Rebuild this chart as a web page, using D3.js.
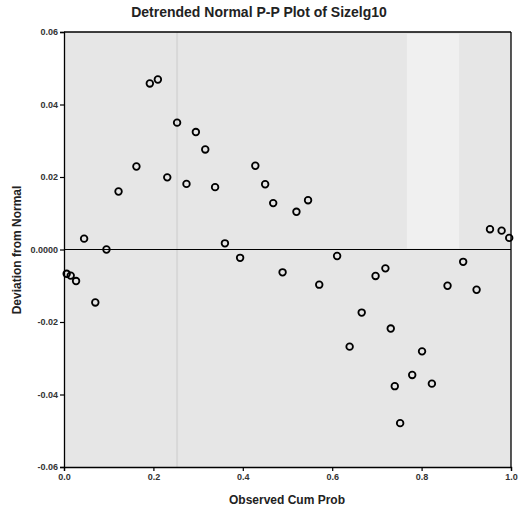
<!DOCTYPE html>
<html>
<head>
<meta charset="utf-8">
<script src="https://cdn.jsdelivr.net/npm/d3@7"></script>
<style>
  body { margin: 0; background: #fff; }
  svg { display: block; }
</style>
</head>
<body>
<div id="chart"></div>
<script>
// Observed cumulative probability (x) and deviation from normal (y)
var obsCumProb = [0.006, 0.015, 0.027, 0.045, 0.070, 0.095, 0.122, 0.162, 0.192, 0.210,
  0.231, 0.253, 0.274, 0.295, 0.316, 0.338, 0.360, 0.394, 0.428, 0.450,
  0.468, 0.489, 0.520, 0.546, 0.571, 0.611, 0.639, 0.666, 0.697, 0.719,
  0.731, 0.740, 0.752, 0.779, 0.801, 0.823, 0.858, 0.893, 0.923, 0.953,
  0.979, 0.996];
var deviation = [-0.0067, -0.0072, -0.0087, 0.0030, -0.0146, 0.0000, 0.0160, 0.0229, 0.0458, 0.0469,
  0.0199, 0.0350, 0.0181, 0.0324, 0.0276, 0.0172, 0.0017, -0.0023, 0.0231, 0.0180,
  0.0128, -0.0063, 0.0104, 0.0136, -0.0097, -0.0018, -0.0268, -0.0174, -0.0073, -0.0052,
  -0.0218, -0.0377, -0.0479, -0.0346, -0.0281, -0.0370, -0.0100, -0.0034, -0.0111, 0.0056,
  0.0052, 0.0032];
var xTicks = [0, 0.2, 0.4, 0.6, 0.8, 1.0];
var xTickLabels = ["0.0", "0.2", "0.4", "0.6", "0.8", "1.0"];
var yTicks = [0.06, 0.04, 0.02, 0, -0.02, -0.04, -0.06];
var yTickLabels = ["0.06", "0.04", "0.02", "0.0000", "-0.02", "-0.04", "-0.06"];

var W = 520, H = 515;
var m = { top: 32, right: 9, bottom: 48, left: 64 };

var svg = d3.select("#chart").append("svg")
  .attr("width", W)
  .attr("height", H);

var x = d3.scaleLinear().domain([0, 1]).range([m.left, W - m.right]);
var y = d3.scaleLinear().domain([-0.06, 0.06]).range([H - m.bottom, m.top]);

// Plot background
svg.append("rect")
  .attr("x", x(0)).attr("y", y(0.06))
  .attr("width", x(1) - x(0)).attr("height", y(-0.06) - y(0.06))
  .style("fill", "#e6e6e6");

// lighter patch (scan artefact in the original)
svg.append("rect")
  .attr("x", x(0.767)).attr("y", y(0.06) + 2)
  .attr("width", x(0.884) - x(0.767)).attr("height", y(0) - y(0.06) - 3)
  .style("fill", "#f0f0f0");

svg.append("line")
  .attr("x1", x(0.253)).attr("x2", x(0.253))
  .attr("y1", y(0.06)).attr("y2", y(-0.06))
  .style("stroke", "#d8d8d8").style("stroke-width", 2);

// Axes
var font = "'Liberation Sans Narrow', 'Arial Narrow', sans-serif";

var yAxis = d3.axisLeft(y)
  .tickValues(yTicks)
  .tickFormat(function(d, i) { return yTickLabels[i]; })
  .tickSize(4).tickPadding(2);

var gy = svg.append("g")
  .attr("transform", "translate(" + x(0) + ",0)")
  .call(yAxis);

var xAxis = d3.axisBottom(x)
  .tickValues(xTicks)
  .tickFormat(function(d, i) { return xTickLabels[i]; })
  .tickSize(4).tickPadding(3);

var gx = svg.append("g")
  .attr("transform", "translate(0," + y(-0.06) + ")")
  .call(xAxis);

[gx, gy].forEach(function(g) {
  g.select(".domain").style("stroke", "#000").style("stroke-width", 1.3);
  g.selectAll(".tick line").style("stroke", "#000").style("stroke-width", 1.2);
  g.selectAll(".tick text")
    .style("font-family", font)
    .style("font-size", "9px")
    .style("font-weight", "bold")
    .style("fill", "#333");
});

// Frame top and right
svg.append("line")
  .attr("x1", x(0)).attr("x2", x(1))
  .attr("y1", y(0.06)).attr("y2", y(0.06))
  .style("stroke", "#000").style("stroke-width", 1.3);
svg.append("line")
  .attr("x1", x(1)).attr("x2", x(1))
  .attr("y1", y(0.06)).attr("y2", y(-0.06))
  .style("stroke", "#000").style("stroke-width", 1.3);

// Zero reference line
svg.append("line")
  .attr("x1", x(0)).attr("x2", x(1))
  .attr("y1", y(0)).attr("y2", y(0))
  .style("stroke", "#000").style("stroke-width", 1.2);

// Points
var data = obsCumProb.map(function(d, i) { return { p: d, dev: deviation[i] }; });

svg.append("g").selectAll("circle")
  .data(data)
  .enter().append("circle")
  .attr("cx", function(d) { return x(d.p); })
  .attr("cy", function(d) { return y(d.dev); })
  .attr("r", 3.3)
  .style("fill", "none")
  .style("stroke", "#000")
  .style("stroke-width", 1.8);

// Title and axis labels
svg.append("text")
  .attr("x", 259)
  .attr("y", 17)
  .style("text-anchor", "middle")
  .style("font-family", font)
  .style("font-size", "14px")
  .style("font-weight", "bold")
  .style("fill", "#222")
  .text("Detrended Normal P-P Plot of Sizelg10");

svg.append("text")
  .attr("x", 287)
  .attr("y", 504)
  .style("text-anchor", "middle")
  .style("font-family", "'Liberation Sans', Arial, sans-serif")
  .style("font-size", "12px")
  .style("font-weight", "bold")
  .style("fill", "#222")
  .text("Observed Cum Prob");

svg.append("text")
  .attr("transform", "translate(21,250) rotate(-90)")
  .style("text-anchor", "middle")
  .style("font-family", "'Liberation Sans', Arial, sans-serif")
  .style("font-size", "12px")
  .style("font-weight", "bold")
  .style("fill", "#222")
  .text("Deviation from Normal");
</script>
</body>
</html>
